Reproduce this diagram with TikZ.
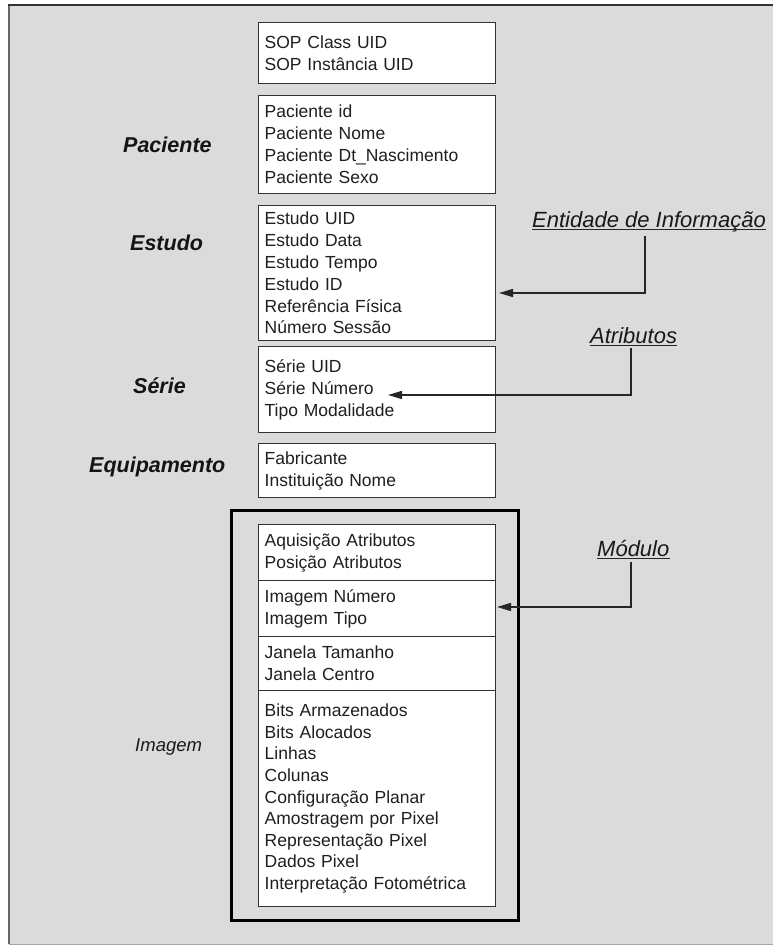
\documentclass[tikz,border=0pt]{standalone}
\usepackage{fontspec}
\setmainfont{Liberation Sans}
\usetikzlibrary{arrows.meta}
\begin{document}
\begin{tikzpicture}[x=1pt,y=-1pt,
  attr/.style={draw=black!80, line width=1.4pt, fill=white, text=black!88,
    inner xsep=6pt, inner ysep=0pt, text width=225pt, minimum width=237pt,
    align=left, anchor=north west,
    font=\fontsize{17.5}{22}\selectfont},
  entity/.style={anchor=base west, inner sep=0pt, text=black!92,
    font=\fontsize{21.5}{24}\selectfont\bfseries\itshape},
  callout/.style={anchor=base west, inner sep=0pt, text=black!90,
    font=\fontsize{22}{24}\selectfont\itshape},
  uline/.style={draw=black!85, line width=1.3pt},
  pointer/.style={draw=black!85, line width=1.5pt,
    -{Triangle[length=14pt,width=8pt]}},
  groupbox/.style={draw=black, line width=3pt}]
\useasboundingbox (0,0) rectangle (773,947);

% page frame
\fill[black!14] (8,5) rectangle (773,944);
\draw[black!35, line width=1pt] (9,944) -- (773,944);
\draw[black!60, line width=2pt] (9,5) -- (9,944);
\draw[black!80, line width=2.5pt] (8,5) -- (773,5);

% attribute boxes
\node[attr, minimum height=61pt] (sop) at (258,22)
  {SOP Class UID\\SOP Instância UID};
\node[attr, minimum height=98pt] (pac) at (258,95)
  {Paciente id\\Paciente Nome\\Paciente Dt\_Nascimento\\Paciente Sexo};
\node[attr, minimum height=135pt, font=\fontsize{17.5}{21.8}\selectfont] (est) at (258,205)
  {Estudo UID\\Estudo Data\\Estudo Tempo\\Estudo ID\\Referência Física\\Número Sessão};
\node[attr, minimum height=86pt] (ser) at (258,346)
  {Série UID\\Série Número\\Tipo Modalidade};
\node[attr, minimum height=54pt] (equ) at (258,443)
  {Fabricante\\Instituição Nome};

% image group
\draw[groupbox] (231,510) rectangle (518,920);
\node[attr, minimum height=56pt] (aq) at (258,524)
  {Aquisição Atributos\\Posição Atributos};
\node[attr, minimum height=56pt] (im) at (258,580)
  {Imagem Número\\Imagem Tipo};
\node[attr, minimum height=54pt] (jan) at (258,636)
  {Janela Tamanho\\Janela Centro};
\node[attr, minimum height=216pt, font=\fontsize{17.5}{21.6}\selectfont] (pix) at (258,690)
  {Bits Armazenados\\Bits Alocados\\Linhas\\Colunas\\Configuração Planar\\Amostragem por Pixel\\Representação Pixel\\Dados Pixel\\Interpretação Fotométrica};

% entity names
\node[entity] (lpac) at (123,152) {Paciente};
\node[entity] (lest) at (130,250) {Estudo};
\node[entity] (lser) at (133,393) {Série};
\node[entity] (lequ) at (89,472) {Equipamento};
\node[callout, font=\fontsize{18.5}{22}\selectfont\itshape] (limg) at (135,751) {Imagem};

% callouts
\node[callout] (cent) at (532,227) {Entidade de Informação};
\node[callout] (catr) at (590,343) {Atributos};
\node[callout] (cmod) at (597,556) {Módulo};
\draw[uline] ([yshift=-2.5pt]cent.base west) -- ([yshift=-2.5pt]cent.base east);
\draw[uline] ([yshift=-2.5pt]catr.base west) -- ([yshift=-2.5pt]catr.base east);
\draw[uline] ([yshift=-2.5pt]cmod.base west) -- ([yshift=-2.5pt]cmod.base east);

\coordinate (entTip) at (499,293);
\coordinate (atrTip) at (388,395);
\coordinate (modTip) at (497,607);
\draw[pointer] (cent.south -| 645,0) ++(0,4) |- (entTip);
\draw[pointer] (catr.south -| 631,0) ++(0,5) |- (atrTip);
\draw[pointer] (cmod.south -| 631,0) ++(0,6) |- (modTip);
\end{tikzpicture}
\end{document}
